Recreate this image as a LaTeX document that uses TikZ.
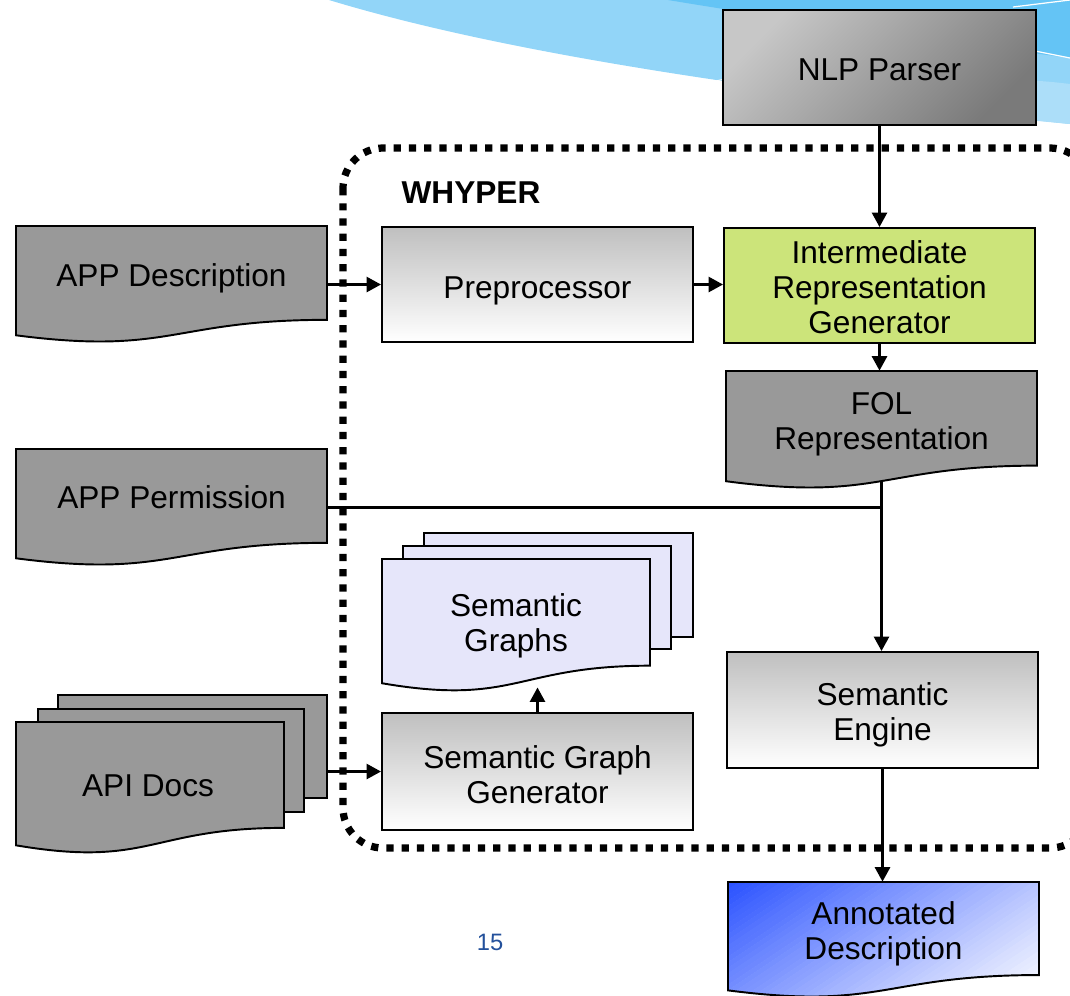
\documentclass[tikz,border=0pt]{standalone}
\usepackage{fontspec}
\setmainfont{Liberation Sans}
\usetikzlibrary{arrows.meta,calc}

\definecolor{docgray}{RGB}{153,153,153}
\definecolor{irgreen}{RGB}{204,228,122}
\definecolor{lavender}{RGB}{230,230,250}
\definecolor{skylight}{RGB}{146,213,248}
\definecolor{skydark}{RGB}{100,196,245}
\definecolor{skypale}{RGB}{172,222,249}
\definecolor{pageblue}{RGB}{35,80,155}
\definecolor{annblue}{RGB}{38,78,255}

% one pixel of the drawing grid
\newcommand\unitpx{0.02cm}

% flowchart "document" page with a wavy lower edge; #2 names a box over it
\newcommand\docpage[6]{%
  \path[#1] (#3,#4) -- ({#3+#5},#4) -- ({#3+#5},{#4+0.802*#6})
    .. controls ({#3+0.5*#5},{#4+0.802*#6}) and ({#3+0.5*#5},{#4+1.107*#6})
    .. (#3,{#4+0.934*#6}) -- cycle;
  \node[inner sep=0pt, minimum width={#5*\unitpx}, minimum height={0.933*#6*\unitpx}]
    (#2) at ({#3+0.5*#5},{#4+0.4665*#6}) {};
}
% plain back page of a stacked document
\newcommand\backpage[6]{%
  \path[#1] (#3,#4) rectangle (#5,#6);
  \node[inner sep=0pt, minimum width={(#5-#3)*\unitpx}, minimum height={(#6-#4)*\unitpx}]
    (#2) at ({0.5*(#3+#5)},{0.5*(#4+#6)}) {};
}

\tikzset{
  outline/.style={draw=black, line width=1.1pt},
  procbox/.style={outline, inner sep=0pt, top color=black!25, bottom color=white},
  darkbox/.style={outline, inner sep=0pt, top color=black!22, bottom color=black!52, shading angle=45},
  greenbox/.style={outline, inner sep=0pt, fill=irgreen},
  graydoc/.style={outline, fill=docgray},
  lavdoc/.style={outline, fill=lavender},
  label/.style={font=\fontsize{18}{20.1}\selectfont, align=center, inner sep=0pt},
  conn/.style={line width=1.6pt, -{Triangle[length=0.29cm,width=0.3cm]}},
  wire/.style={line width=1.6pt},
  boundary/.style={line width=0.145cm, dash pattern=on 0.145cm off 0.16cm, rounded corners=0.8cm},
}

\begin{document}
\begin{tikzpicture}[x=0.02cm, y=-0.02cm]
\useasboundingbox (0,0) rectangle (1070,995);

\begin{scope}
  \clip (0,0) rectangle (1070,995);
  % slide background bands
  \fill[skylight] (329,0) .. controls (520,58) and (800,95) .. (1070,124) -- (1070,0) -- cycle;
  \fill[skypale] (723,82) .. controls (850,92) and (960,70) .. (1070,84) -- (1070,124)
        .. controls (900,108) .. (723,84) -- cycle;
  \fill[skydark] (668,0) .. controls (800,22) and (950,42) .. (1070,58) -- (1070,0) -- cycle;
  \draw[white, line width=0.7pt] (1000,44) -- (1070,58);
  \draw[white, line width=0.7pt] (1013,7) -- (1070,0);
  \draw[white, line width=0.5pt] (700,84) -- (730,78);
  % WHYPER system boundary
  \draw[boundary] (343,148) rectangle (1090,848);
\end{scope}

\node[label, font=\fontsize{18}{20.1}\selectfont\bfseries] (whyper) at (471,193) {WHYPER};

% process boxes
\node[darkbox, minimum width={313*\unitpx}, minimum height={115*\unitpx}] (nlp) at (879.5,67.5) {};
\node[label] (nlptext) at ($(nlp)+(0,2)$) {NLP Parser};
\node[procbox, minimum width={311*\unitpx}, minimum height={115*\unitpx}] (pre) at (537.5,284.5) {};
\node[label] (pretext) at ($(pre)+(0,6)$) {Preprocessor};
\node[greenbox, minimum width={311*\unitpx}, minimum height={115*\unitpx}] (irg) at (879.5,285.5) {};
\node[label] (irgtext) at ($(irg)+(0,1.5)$) {Intermediate\\Representation\\Generator};
\node[procbox, minimum width={311*\unitpx}, minimum height={117*\unitpx}] (sgg) at (537.5,771.5) {};
\node[label] (sggtext) at ($(sgg)+(0,3)$) {Semantic Graph\\Generator};
\node[procbox, minimum width={311*\unitpx}, minimum height={116*\unitpx}] (seng) at (882.5,710) {};
\node[label] (sengtext) at ($(seng)+(0,4.5)$) {Semantic\\Engine};

% documents
\docpage{graydoc}{appdesc}{16}{226}{311}{117}
\node[label] (appdesctext) at (171.5,278) {APP Description};
\docpage{graydoc}{appperm}{16}{449}{311}{117}
\node[label] (appperttext) at (171.5,497) {APP Permission};
\docpage{graydoc}{fol}{726}{371}{311}{118}
\node[label] (foltext) at (881.5,424) {FOL\\Representation};

% annotated output: diagonal blue-to-white fill built from thin bands
\begin{scope}
  \clip (728,882) -- (1039,882) -- (1039,975.0)
    .. controls (883.5,975.0) and (883.5,1010.4) .. (728,990.3) -- cycle;
  \foreach \i in {0,...,59} {
    \pgfmathsetmacro\ca{-6+\i*8.4}
    \pgfmathsetmacro\cb{\ca+9.2}
    \pgfmathtruncatemacro\mix{max(0,min(100,round(100*(1-(\i+0.5)/60)^1.1)))}
    \fill[annblue!\mix!white]
      ({728+\ca+7.5},877) -- ({728+\cb+7.5},877) -- ({728+\cb-187.5},1007) -- ({728+\ca-187.5},1007) -- cycle;
  }
\end{scope}
\docpage{outline}{ann}{728}{882}{311}{116}
\node[label] (anntext) at (883.5,933.5) {Annotated\\Description};

% stacked API documents
\backpage{graydoc}{apiback}{58}{695}{327}{798}
\backpage{graydoc}{apimid}{38}{709}{304}{812}
\docpage{graydoc}{apifront}{16}{722}{268}{132}
\node[label] (apitext) at (148,786) {API Docs};

% stacked semantic graphs
\backpage{lavdoc}{sgback}{424}{533}{693}{637}
\backpage{lavdoc}{sgmid}{403}{546}{671}{649}
\docpage{lavdoc}{sgfront}{382}{559}{268}{133}
\node[label] (sgtext) at (516,625.5) {Semantic\\Graphs};

% connectors
\draw[conn] (nlp.south) -- (irg.north);
\draw[conn] (appdesc.east |- pre.west) -- (pre.west);
\draw[conn] (pre.east) -- (pre.east -| irg.west);
\draw[conn] (irg.south) -- (irg.south |- fol.north);
\draw[wire] ([yshift=-0.07cm]appperm.east) -- ([yshift=-0.07cm]appperm.east -| fol.south);
\draw[wire] ($(sgback.north east)!0.75!(sgback.south east)$) -- ($(sgback.north east)!0.75!(sgback.south east)$ -| fol.south);
\draw[conn] (fol.south) -- (fol.south |- seng.north);
\draw[conn, shorten >=0.08cm] (sgg.north) -- (sgg.north |- sgfront.south);
\draw[conn] (apiback.east |- sgg.west) -- (sgg.west);
\draw[conn] (seng.south) -- (seng.south |- ann.north);

% slide number
\node[font=\fontsize{13.5}{16}\selectfont, text=pageblue, inner sep=0pt] (slideno) at (490,942) {15};
\end{tikzpicture}
\end{document}
